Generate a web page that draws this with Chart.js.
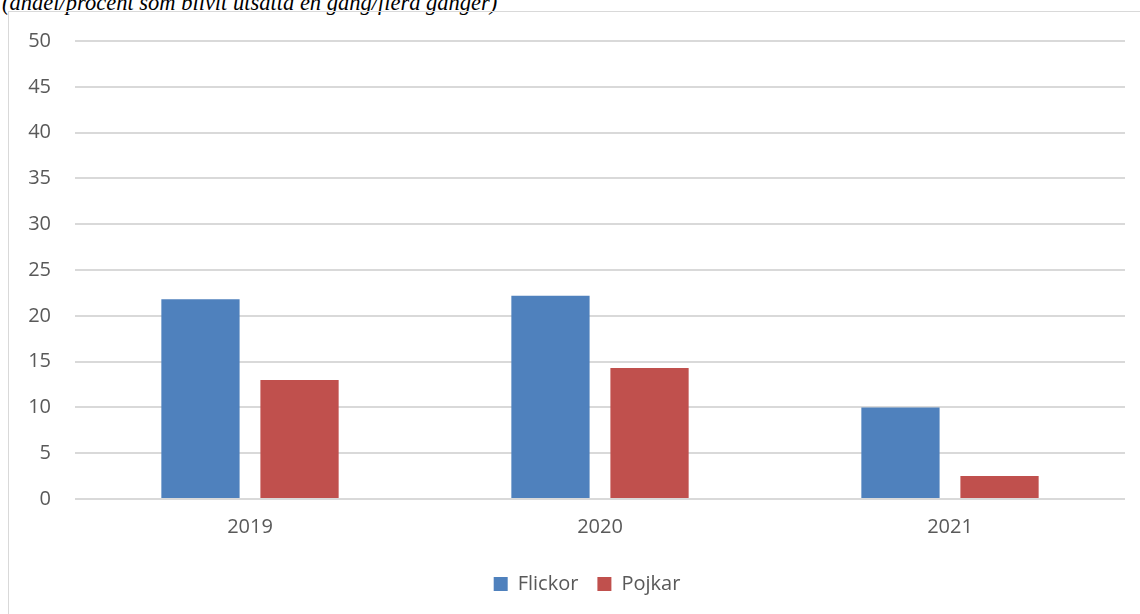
<!DOCTYPE html>
<html>
<head>
<meta charset="utf-8">
<script src="https://cdn.jsdelivr.net/npm/chart.js@4.4.1/dist/chart.umd.min.js"></script>
<style>
  html, body { margin: 0; padding: 0; background: #fff; overflow: hidden; }
  body { width: 1140px; height: 614px; position: relative; }
  #title {
    position: absolute; left: 2px; top: -10px; margin: 0;
    font-family: "Liberation Serif", "Times New Roman", serif;
    font-style: italic; font-size: 22.5px; color: #000; white-space: nowrap;
  }
  #box {
    position: absolute; left: 8px; top: 11px; width: 1140px; height: 610px;
    border: 1px solid #d9d9d9; box-sizing: border-box;
  }
  #wrap { position: absolute; left: 0; top: -7px; width: 1131px; height: 609px; }
</style>
</head>
<body>
<p id="title">(andel/procent som blivit utsatta en gång/flera gånger)</p>
<div id="box">
  <div id="wrap"><canvas id="myChart"></canvas></div>
</div>
<script>
const years = ['2019', '2020', '2021'];
const flickor = [21.8, 22.2, 10.0];
const pojkar = [13.0, 14.3, 2.5];
const yTicks = [0, 5, 10, 15, 20, 25, 30, 35, 40, 45, 50];

// the legend in the original sits a bit right of the canvas centre
const legendShift = {
  id: 'legendShift',
  beforeDraw(chart) {
    chart.legend.left += 20;
    chart.legend.right += 20;
  },
};

const ctx = document.getElementById('myChart').getContext('2d');
new Chart(ctx, {
  type: 'bar',
  data: {
    labels: years,
    datasets: [
      {
        label: 'Flickor',
        data: flickor,
        backgroundColor: '#4F81BD',
        categoryPercentage: 0.566,
        barPercentage: 0.79,
      },
      {
        label: 'Pojkar',
        data: pojkar,
        backgroundColor: '#C0504D',
        categoryPercentage: 0.566,
        barPercentage: 0.79,
      },
    ],
  },
  options: {
    responsive: true,
    maintainAspectRatio: false,
    animation: false,
    layout: { padding: { top: 23, right: 15, bottom: 10, left: 0 } },
    plugins: {
      tooltip: { enabled: false },
      legend: {
        position: 'bottom',
        labels: {
          boxWidth: 14,
          boxHeight: 14,
          padding: 19,
          color: '#595959',
          font: { family: 'Open Sans', size: 20 },
        },
      },
    },
    scales: {
      x: {
        grid: { display: false, drawTicks: false },
        border: { display: false },
        ticks: {
          color: '#595959',
          padding: 16,
          font: { family: 'Open Sans', size: 20 },
        },
      },
      y: {
        min: 0,
        max: 50,
        afterBuildTicks: (scale) => {
          scale.ticks = yTicks.map((v) => ({ value: v }));
        },
        afterFit: (scale) => {
          scale.width = 66;
        },
        grid: { color: '#d9d9d9', lineWidth: 2, drawTicks: false },
        border: { display: false },
        ticks: {
          color: '#595959',
          padding: 24,
          font: { family: 'Open Sans', size: 20 },
        },
      },
    },
  },
  plugins: [legendShift],
});
</script>
</body>
</html>
